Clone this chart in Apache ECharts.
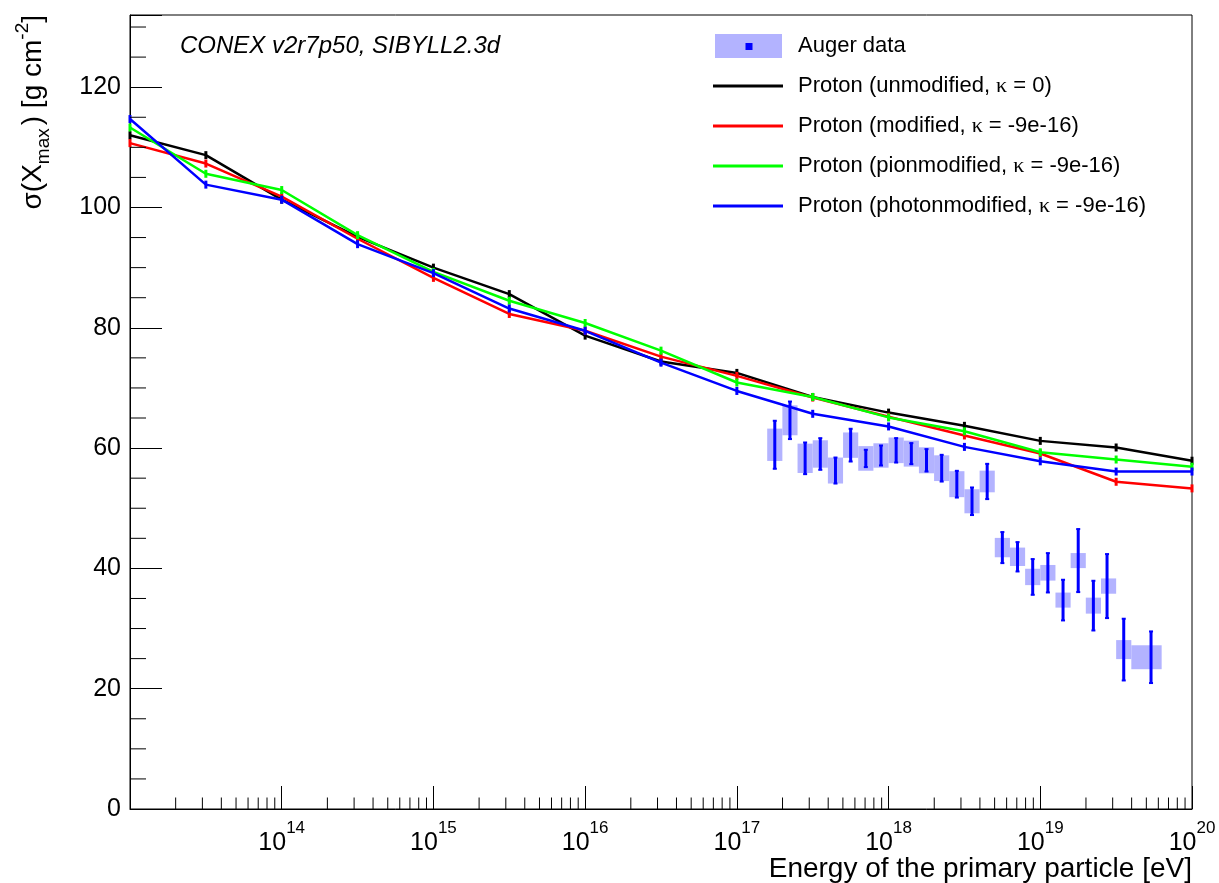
<!DOCTYPE html>
<html><head><meta charset="utf-8">
<script src="https://cdn.jsdelivr.net/npm/echarts@6/dist/echarts.min.js"></script>
<style>html,body{margin:0;padding:0;background:#fff}#c{width:1219px;height:883px}</style>
</head><body><div id="c"></div>
<script>
// log10(E / eV) of the simulated points
const energies = [13, 13.5, 14, 14.5, 15, 15.5, 16, 16.5, 17, 17.5, 18, 18.5, 19, 19.5, 20];
const unmodified      = [112.0, 108.7, 101.3, 95.1, 90.0, 85.6, 78.7, 74.4, 72.5, 68.5, 65.9, 63.7, 61.2, 60.1, 57.9];
const modified        = [110.7, 107.3, 101.8, 94.8, 88.3, 82.3, 79.5, 75.2, 72.0, 68.4, 65.2, 62.1, 59.1, 54.4, 53.3];
const pionModified    = [113.3, 105.6, 102.9, 95.4, 89.3, 84.5, 80.8, 76.2, 70.9, 68.5, 65.1, 62.8, 59.3, 58.1, 56.9];
const photonModified  = [114.7, 103.8, 101.3, 93.9, 89.1, 83.2, 79.5, 74.2, 69.5, 65.7, 63.6, 60.2, 57.8, 56.1, 56.1];

// Auger data
const augerLogE  = [17.25,17.35,17.45,17.55,17.65,17.75,17.85,17.95,18.05,18.15,18.25,18.35,18.45,18.55,18.65,18.75,18.85,18.95,19.05,19.15,19.25,19.35,19.44,19.55,19.73];
const augerBinLo = [17.2,17.3,17.4,17.5,17.6,17.7,17.8,17.9,18.0,18.1,18.2,18.3,18.4,18.5,18.6,18.7,18.8,18.9,19.0,19.1,19.2,19.3,19.4,19.5,19.6];
const augerBinHi = [17.3,17.4,17.5,17.6,17.7,17.8,17.9,18.0,18.1,18.2,18.3,18.4,18.5,18.6,18.7,18.8,18.9,19.0,19.1,19.2,19.3,19.4,19.5,19.6,19.8];
const augerSigma = [60.55,64.62,58.30,59.02,56.27,60.49,58.28,58.77,59.63,59.08,57.97,56.66,54.00,51.16,54.45,43.46,41.93,38.58,39.27,34.73,41.30,33.81,37.06,26.50,25.23];
const augerStat  = [3.99,3.12,2.63,2.63,2.16,2.72,1.44,1.66,2.03,1.75,1.86,2.22,2.22,2.29,2.93,2.58,2.44,2.97,3.27,3.38,5.24,4.13,5.32,5.13,4.29];
const augerSys   = [2.69,2.49,2.44,2.28,2.16,2.11,2.05,2.03,2.13,2.16,2.16,2.14,2.16,2.00,1.80,1.61,1.53,1.36,1.30,1.25,1.25,1.33,1.27,1.58,1.99];

// axis ticks
const xMajorTicks = [13, 14, 15, 16, 17, 18, 19, 20];
const yMajorTicks = [0, 20, 40, 60, 80, 100, 120];
const xMinorTicks = [];
for (let n = 13; n < 20; n++) for (let k = 2; k <= 9; k++) xMinorTicks.push(n + Math.log10(k));
const yMinorTicks = [];
for (let v = 5; v <= 130; v += 5) if (v % 20 !== 0) yMinorTicks.push(v);

const FONT = "'Liberation Sans', Arial, sans-serif";
const SERIF = "'Liberation Serif', 'Times New Roman', serif";
const seriesNames = ['Auger data', 'Proton (unmodified, \u03ba = 0)', 'Proton (modified, \u03ba = -9e-16)',
  'Proton (pionmodified, \u03ba = -9e-16)', 'Proton (photonmodified, \u03ba = -9e-16)'];
const lineColors = ['#000000', '#ff0000', '#00ff00', '#0000ff'];
const lineData = [unmodified, modified, pionModified, photonModified];

function svgIcon(svg) { return 'image://data:image/svg+xml;charset=utf-8,' + encodeURIComponent(svg); }
const augerIcon = svgIcon("<svg xmlns='http://www.w3.org/2000/svg' width='70' height='24'><rect x='2' y='0' width='67' height='24' fill='#b3b3ff'/><rect x='32.5' y='9' width='7' height='7' fill='#0000ff'/></svg>");
function lineIcon(c) { return svgIcon("<svg xmlns='http://www.w3.org/2000/svg' width='70' height='24'><rect x='0' y='10.5' width='70' height='3' fill='" + c + "'/></svg>"); }

const chart = echarts.init(document.getElementById('c'), null, { renderer: 'canvas' });

const series = [];
series.push({
  name: seriesNames[0], type: 'custom', z: 2,
  data: augerLogE.map((x, i) => [x, augerSigma[i], augerStat[i], augerSys[i], augerBinLo[i], augerBinHi[i]]),
  encode: { x: 0, y: 1 },
  renderItem: function (params, api) {
    const x = api.value(0), v = api.value(1), st = api.value(2), sy = api.value(3), lo = api.value(4), hi = api.value(5);
    const p1 = api.coord([lo, v + sy]), p2 = api.coord([hi, v - sy]);
    const b1 = api.coord([x, v + st]), b2 = api.coord([x, v - st]);
    return { type: 'group', children: [
      { type: 'rect', shape: { x: p1[0], y: p1[1], width: p2[0] - p1[0], height: p2[1] - p1[1] }, style: { fill: '#b3b3ff' } },
      { type: 'line', shape: { x1: b1[0], y1: b1[1], x2: b2[0], y2: b2[1] }, style: { stroke: '#0000ff', lineWidth: 3 } },
      { type: 'line', shape: { x1: b1[0] - 2, y1: b1[1], x2: b1[0] + 2, y2: b1[1] }, style: { stroke: '#0000ff', lineWidth: 2 } },
      { type: 'line', shape: { x1: b2[0] - 2, y1: b2[1], x2: b2[0] + 2, y2: b2[1] }, style: { stroke: '#0000ff', lineWidth: 2 } }
    ] };
  }
});
lineData.forEach((arr, j) => {
  series.push({
    name: seriesNames[j + 1], type: 'line', z: 3 + j,
    data: energies.map((e, i) => [e, arr[i]]),
    symbol: 'rect', symbolSize: [3, 8], showSymbol: true,
    lineStyle: { color: lineColors[j], width: 2.5 },
    itemStyle: { color: lineColors[j] }
  });
});
// minor ticks (log decades on x, 5-unit steps on y)
series.push({
  type: 'custom', silent: true, z: 10,
  data: xMinorTicks.map(v => [v, 0]),
  encode: { x: 0, y: 1 }, clip: false,
  renderItem: function (params, api) {
    const p = api.coord([api.value(0), 0]);
    return { type: 'line', shape: { x1: p[0], y1: p[1], x2: p[0], y2: p[1] - 11.5 }, style: { stroke: '#000', lineWidth: 1 } };
  }
});
series.push({
  type: 'custom', silent: true, z: 10,
  data: yMinorTicks.map(v => [13, v]),
  encode: { x: 0, y: 1 }, clip: false,
  renderItem: function (params, api) {
    const p = api.coord([13, api.value(1)]);
    return { type: 'line', shape: { x1: p[0], y1: p[1], x2: p[0] + 16, y2: p[1] }, style: { stroke: '#000', lineWidth: 1 } };
  }
});

chart.setOption({
  animation: false,
  backgroundColor: '#ffffff',
  textStyle: { fontFamily: FONT },
  grid: { left: 130, right: 27, top: 15, bottom: 74, show: true, borderColor: '#000', borderWidth: 1, backgroundColor: 'transparent' },
  xAxis: {
    type: 'value', min: 13, max: 20, interval: 1,
    axisLine: { lineStyle: { color: '#000', width: 1 } },
    axisTick: { inside: true, length: 23, lineStyle: { color: '#000', width: 1 } },
    splitLine: { show: false },
    axisLabel: {
      margin: 11, color: '#000', fontFamily: FONT,
      formatter: v => (xMajorTicks.indexOf(v) > 0 ? '{b|10}{s|' + v + '}' : ''),
      rich: {
        b: { fontSize: 25, fontFamily: FONT, color: '#000', lineHeight: 36, verticalAlign: 'bottom' },
        s: { fontSize: 17, fontFamily: FONT, color: '#000', verticalAlign: 'top' }
      }
    }
  },
  yAxis: {
    type: 'value', min: 0, max: 132, interval: 20,
    axisLine: { lineStyle: { color: '#000', width: 1 } },
    axisTick: { inside: true, length: 32, lineStyle: { color: '#000', width: 1 } },
    splitLine: { show: false },
    axisLabel: {
      margin: 9, fontSize: 25, color: '#000', fontFamily: FONT,
      formatter: v => (yMajorTicks.indexOf(v) >= 0 ? String(v) : '')
    }
  },
  legend: {
    orient: 'vertical', left: 713, top: 34, padding: 0,
    itemWidth: 70, itemHeight: 24, itemGap: 16,
    selectedMode: false,
    formatter: name => name.replace('\u03ba', '{k|\u03ba}'),
    textStyle: { fontSize: 22, fontFamily: FONT, color: '#000', padding: [0, 0, 0, 10],
      rich: { k: { fontSize: 22, fontFamily: SERIF, color: '#000' } } },
    data: [
      { name: seriesNames[0], icon: augerIcon },
      { name: seriesNames[1], icon: lineIcon('#000000') },
      { name: seriesNames[2], icon: lineIcon('#ff0000') },
      { name: seriesNames[3], icon: lineIcon('#00ff00') },
      { name: seriesNames[4], icon: lineIcon('#0000ff') }
    ]
  },
  graphic: [
    { type: 'text', left: 180, top: 34, style: { text: 'CONEX v2r7p50, SIBYLL2.3d', font: 'italic 24px ' + FONT, fill: '#000' } },
    { type: 'text', x: 1192, y: 869, style: { text: 'Energy of the primary particle [eV]', font: '28px ' + FONT, fill: '#000', align: 'right', verticalAlign: 'middle' } },
    { type: 'text', x: 33, y: 15, rotation: Math.PI / 2,
      style: {
        text: '{n|\u03c3(X}{sub|max}{n|) [g cm}{sup|-2}{n|]}',
        align: 'right', verticalAlign: 'middle', fill: '#000',
        rich: {
          n: { fontSize: 28, fontFamily: FONT, lineHeight: 40, verticalAlign: 'middle', fill: '#000' },
          sub: { fontSize: 19, fontFamily: FONT, verticalAlign: 'bottom', fill: '#000', padding: [0, 3, 0, 0] },
          sup: { fontSize: 19, fontFamily: FONT, verticalAlign: 'top', fill: '#000' }
        }
      }
    }
  ],
  series: series
});
</script>
</body></html>
